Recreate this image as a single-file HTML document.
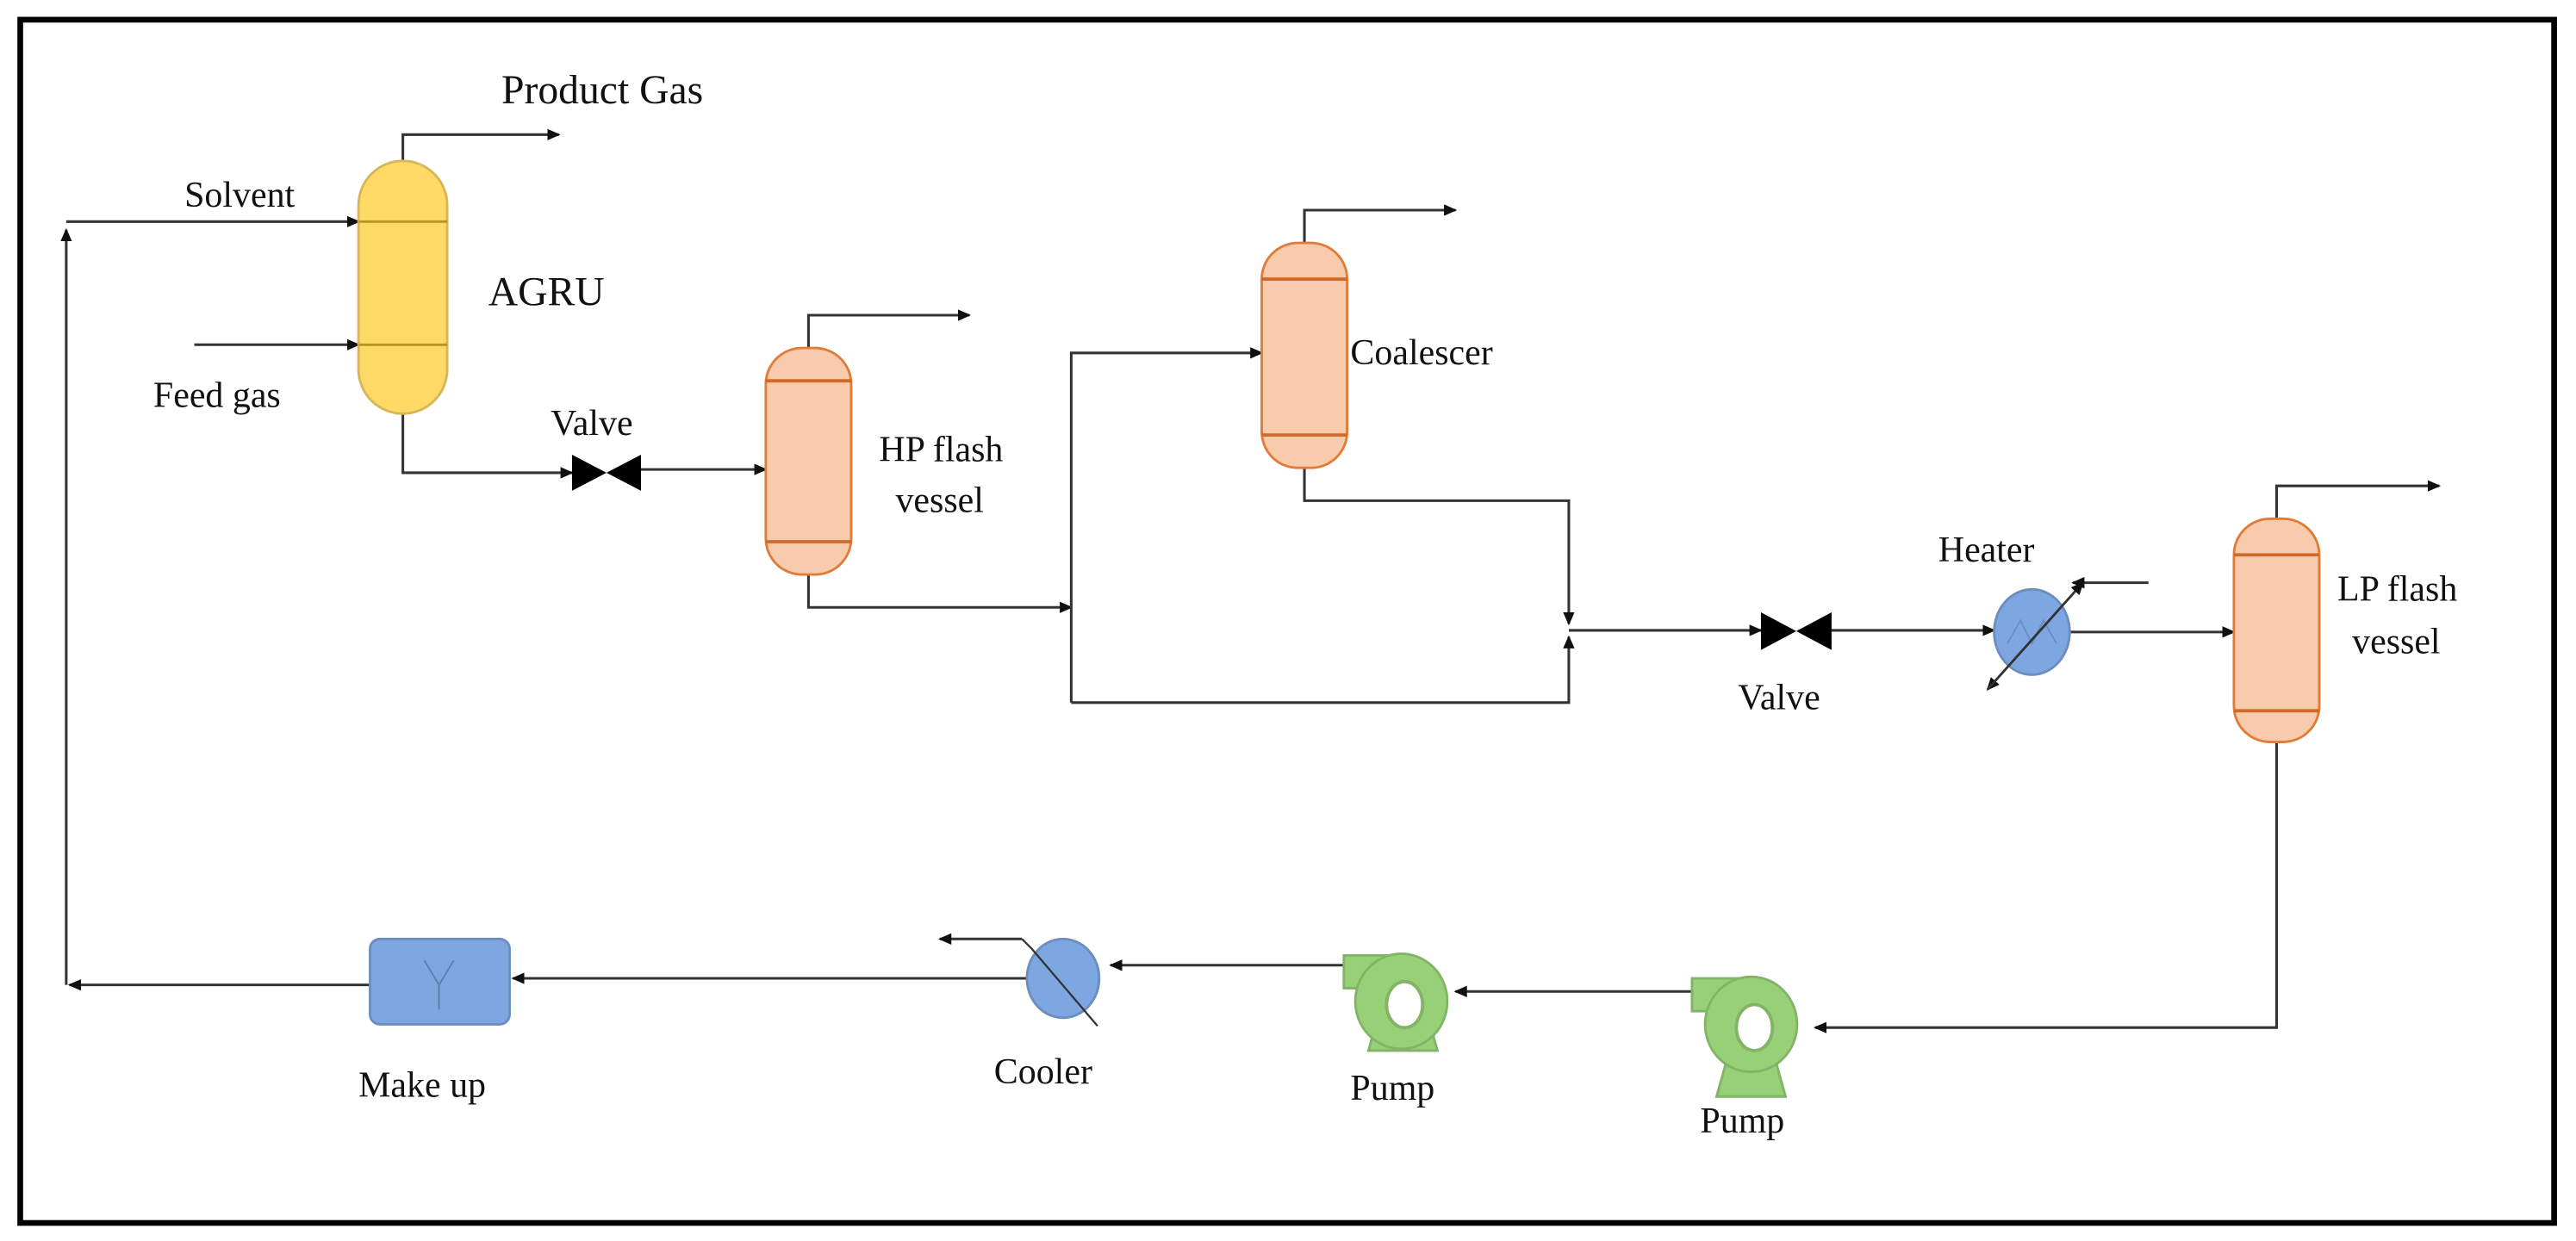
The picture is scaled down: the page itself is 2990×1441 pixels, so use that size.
<!DOCTYPE html>
<html><head><meta charset="utf-8"><style>
html,body{margin:0;padding:0;background:#fff;}
svg{display:block;}
text{font-family:"Liberation Serif",serif;font-size:22px;fill:#111;}
</style></head><body>
<svg width="2990" height="1441" viewBox="0 0 1568 756" xmlns="http://www.w3.org/2000/svg">
<defs>
<marker id="a" markerWidth="8" markerHeight="8" refX="7" refY="4" orient="auto" markerUnits="userSpaceOnUse">
<path d="M0,0.5 L8,4 L0,7.5 Z" fill="#111"/></marker>
</defs>
<rect x="12" y="12" width="1543" height="733" fill="#fff" stroke="#000" stroke-width="3.5"/>
<g fill="none" stroke="#333" stroke-width="1.6">
<path d="M245,98 V82 H340" marker-end="url(#a)"/>
<path d="M40,600 V140" marker-end="url(#a)"/>
<path d="M40,135 H218" marker-end="url(#a)"/>
<path d="M118,210 H218" marker-end="url(#a)"/>
<path d="M245,252 V288 H348" marker-end="url(#a)"/>
<path d="M390,286 H466" marker-end="url(#a)"/>
<path d="M492,212 V192 H590" marker-end="url(#a)"/>
<path d="M492,350 V370 H652" marker-end="url(#a)"/>
<path d="M652,428 V215 H768" marker-end="url(#a)"/>
<path d="M794,148 V128 H886" marker-end="url(#a)"/>
<path d="M794,285 V305 H955 V380" marker-end="url(#a)"/>
<path d="M652,428 H955 V388" marker-end="url(#a)"/>
<path d="M955,384 H1072" marker-end="url(#a)"/>
<path d="M1115,384 H1214" marker-end="url(#a)"/>
<path d="M1260,385 H1360" marker-end="url(#a)"/>
<path d="M1308,355 H1262" marker-end="url(#a)"/>
<path d="M1386,316 V296 H1485" marker-end="url(#a)"/>
<path d="M1386,452 V626 H1105" marker-end="url(#a)"/>
<path d="M1032,604 H886" marker-end="url(#a)"/>
<path d="M820,588 H676" marker-end="url(#a)"/>
<path d="M625,596 H312" marker-end="url(#a)"/>
<path d="M225,600 H42" marker-end="url(#a)"/>
<path d="M622,572 H572" marker-end="url(#a)"/>
</g>
<rect x="218" y="98" width="54" height="154" rx="27" fill="#FFD966" stroke="#D6B656" stroke-width="1.5"/>
<path d="M218,135 H272 M218,210 H272" stroke="#B8961E" stroke-width="1.5"/>
<rect x="466" y="212" width="52" height="138" rx="22" fill="#F8CBAD" stroke="#E07B39" stroke-width="1.5"/>
<path d="M466,232 H518 M466,330 H518" stroke="#D06A2A" stroke-width="2"/>
<rect x="768" y="148" width="52" height="137" rx="22" fill="#F8CBAD" stroke="#E07B39" stroke-width="1.5"/>
<path d="M768,170 H820 M768,265 H820" stroke="#D06A2A" stroke-width="2"/>
<rect x="1360" y="316" width="52" height="136" rx="22" fill="#F8CBAD" stroke="#E07B39" stroke-width="1.5"/>
<path d="M1360,338 H1412 M1360,433 H1412" stroke="#D06A2A" stroke-width="2"/>
<path d="M348,277 L390,299 L390,277 L348,299 Z" fill="#000"/>
<path d="M1072,373 L1115,396 L1115,373 L1072,396 Z" fill="#000"/>
<ellipse cx="1237" cy="385" rx="23" ry="26" fill="#7EA6E0" stroke="#6C8EBF" stroke-width="1.5"/>
<path d="M1222,392 L1230,378 L1237,392 L1244,378 L1252,392" fill="none" stroke="#6C8EBF" stroke-width="1"/>
<path d="M1268,355 L1210,420" stroke="#333" stroke-width="1.4" marker-end="url(#a)"/>
<path d="M1210,420 L1268,355" stroke="#333" stroke-width="1.4" marker-end="url(#a)"/>
<ellipse cx="647" cy="596" rx="22" ry="24" fill="#7EA6E0" stroke="#6C8EBF" stroke-width="1.5"/>
<path d="M622,572 L628,578 L668,625" fill="none" stroke="#333" stroke-width="1.2"/>
<rect x="225" y="572" width="85" height="52" rx="6" fill="#7EA6E0" stroke="#6C8EBF" stroke-width="1.5"/>
<path d="M258,585 L267,600 L276,585 M267,600 V615" fill="none" stroke="#5C7EAF" stroke-width="1"/>
<g fill="#97D077" stroke="#82B366" stroke-width="1.5">
<path d="M833,640 L840,615 L868,615 L875,640 Z"/>
<rect x="818" y="582" width="30" height="20"/>
<ellipse cx="853" cy="610" rx="28" ry="29"/>
<path d="M1045,668 L1052,643 L1080,643 L1087,668 Z"/>
<rect x="1030" y="596" width="30" height="20"/>
<ellipse cx="1066" cy="624" rx="28" ry="29"/>
</g>
<ellipse cx="855" cy="612" rx="11" ry="14" fill="#fff" stroke="#82B366" stroke-width="2"/>
<ellipse cx="1068" cy="626" rx="11" ry="14" fill="#fff" stroke="#82B366" stroke-width="2"/>
<text x="305" y="63" style="font-size:25px">Product Gas</text>
<text x="112" y="126">Solvent</text>
<text x="297" y="186" style="font-size:25px">AGRU</text>
<text x="93" y="248">Feed gas</text>
<text x="335" y="265">Valve</text>
<text x="535" y="281">HP flash</text>
<text x="545" y="312">vessel</text>
<text x="822" y="222">Coalescer</text>
<text x="1180" y="342">Heater</text>
<text x="1058" y="432">Valve</text>
<text x="1423" y="366">LP flash</text>
<text x="1432" y="398">vessel</text>
<text x="218" y="668">Make up</text>
<text x="605" y="660">Cooler</text>
<text x="822" y="670">Pump</text>
<text x="1035" y="690">Pump</text>
</svg>
</body></html>
